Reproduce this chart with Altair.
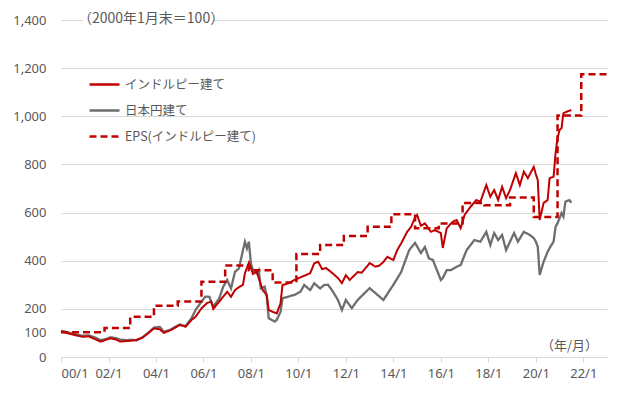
import altair as alt
import pandas as pd

# ---- data (2000/1 = 100) ----
inr_dates = ["2000-01","2000-04","2000-08","2000-12","2001-03","2001-06","2001-09","2001-12",
             "2002-02","2002-05","2002-07","2002-10","2003-01","2003-03","2003-06","2003-09","2003-12",
             "2004-03","2004-05","2004-08","2004-10","2005-01","2005-04","2005-07","2005-09","2005-12",
             "2006-03","2006-05","2006-06","2006-09","2006-11","2007-01","2007-03","2007-05","2007-07",
             "2007-09","2007-10","2007-12","2008-01","2008-02","2008-04","2008-05","2008-07","2008-09",
             "2008-10","2008-12","2009-02","2009-04","2009-05","2009-08","2009-11","2010-03","2010-07",
             "2010-09","2010-11","2011-01","2011-03","2011-06","2011-09","2011-11","2012-01","2012-03",
             "2012-07","2012-09","2013-01","2013-04","2013-06","2013-08","2013-10","2014-01","2014-03",
             "2014-05","2014-08","2014-10","2014-12","2015-01","2015-03","2015-05","2015-08","2015-10",
             "2016-01","2016-02","2016-04","2016-07","2016-09","2016-11","2017-01","2017-04","2017-07",
             "2017-09","2017-12","2018-02","2018-04","2018-06","2018-08","2018-10","2018-12","2019-03",
             "2019-05","2019-07","2019-09","2019-12","2020-01","2020-02","2020-03","2020-05","2020-07",
             "2020-08","2020-10","2020-11","2020-12","2021-01","2021-02","2021-03","2021-05","2021-07"]
inr_values = [105,100,91,84,86,75,64,72,
              78,72,64,66,68,71,80,98,119,
              115,100,110,119,133,126,154,167,202,
              225,230,200,230,251,271,250,278,290,
              300,348,392,370,345,354,327,278,258,
              195,188,181,223,299,306,320,334,348,
              389,396,365,370,350,328,307,340,320,
              353,350,390,375,380,395,416,403,444,
              472,520,541,580,590,545,555,520,527,
              515,453,535,562,569,535,590,624,652,
              645,714,666,694,652,707,660,694,764,
              714,770,743,790,760,735,569,640,652,
              743,749,847,910,943,951,1013,1020,1026]

jpy_dates = ["2000-01","2000-04","2000-08","2000-12","2001-03","2001-06","2001-09","2001-12",
             "2002-02","2002-05","2002-07","2002-10","2003-01","2003-03","2003-06","2003-09","2003-12",
             "2004-03","2004-05","2004-08","2004-10","2005-01","2005-04","2005-07","2005-09","2005-12",
             "2006-02","2006-04","2006-06","2006-09","2006-11","2007-01","2007-03","2007-05","2007-07",
             "2007-09","2007-10","2007-11","2007-12","2008-01","2008-02","2008-04","2008-05","2008-06",
             "2008-08","2008-09","2008-10","2009-01","2009-02","2009-04","2009-05","2009-08","2009-11",
             "2010-02","2010-04","2010-07","2010-09","2010-12","2011-02","2011-04","2011-06","2011-09",
             "2011-11","2012-01","2012-04","2012-07","2013-01","2013-04","2013-08","2014-01","2014-05",
             "2014-09","2014-12","2015-03","2015-05","2015-07","2015-09","2016-01","2016-02","2016-04",
             "2016-06","2016-09","2016-11","2017-02","2017-06","2017-09","2017-12","2018-02","2018-04",
             "2018-06","2018-08","2018-10","2019-02","2019-04","2019-07","2019-10","2019-12","2020-01",
             "2020-02","2020-03","2020-05","2020-07","2020-08","2020-10","2020-11","2020-12","2021-02",
             "2021-03","2021-04","2021-06","2021-07"]
jpy_values = [110,103,95,88,90,82,70,75,
              82,78,72,70,72,68,80,100,122,
              125,105,112,122,135,128,161,195,230,
              251,250,209,244,292,320,285,354,368,
              444,479,451,479,389,361,348,361,285,
              292,251,161,147,154,188,244,251,258,
              271,299,278,306,285,299,300,278,237,
              195,237,203,237,286,265,237,300,353,
              444,474,432,457,410,403,320,328,361,
              361,375,382,444,486,479,520,465,515,
              486,507,444,515,479,520,507,494,480,
              458,341,396,437,453,479,541,556,598,
              583,645,652,641]

eps_dates = ["2000-01","2001-11","2002-12","2003-12","2004-12","2005-12","2006-12","2007-12",
             "2008-12","2009-12","2010-12","2011-12","2012-12","2013-12","2014-12","2015-12",
             "2016-12","2017-11","2018-12","2019-12","2020-12","2021-12","2023-01"]
eps_values = [103,120,167,213,231,313,380,360,
              310,428,465,503,541,593,535,555,
              640,630,663,582,1003,1175,1175]

series_names = ["インドルピー建て", "日本円建て", "EPS(インドルピー建て)"]
series_colors = ["#C00000", "#6E6E6E", "#C00000"]
series_dashes = [[1, 0], [1, 0], [7, 4]]
y_ticks = [0, 100, 200, 400, 600, 800, 1000, 1200, 1400]
x_tick_years = [2000, 2002, 2004, 2006, 2008, 2010, 2012, 2014, 2016, 2018, 2020, 2022]

def frame(dates, values, name):
    return pd.DataFrame({"date": [d + "-01" for d in dates], "value": values, "series": name})

df_inr = frame(inr_dates, inr_values, series_names[0])
df_jpy = frame(jpy_dates, jpy_values, series_names[1])
df_eps = frame(eps_dates, eps_values, series_names[2])

FONT = "Noto Sans CJK JP"
NUMFONT = "Noto Sans"
TXT = "#595959"

x_enc = alt.X(
    "date:T",
    scale=alt.Scale(type="utc", domain=[alt.DateTime(year=2000, month=1, date=1, utc=True),
                                        alt.DateTime(year=2023, month=1, date=1, utc=True)]),
    axis=alt.Axis(
        title=None,
        values=[alt.DateTime(year=y, month=1, date=1, utc=True) for y in x_tick_years],
        labelExpr="utcFormat(datum.value, '%y') + '/1'",
        grid=False, domainColor="#D9D9D9", tickColor="#D9D9D9", tickSize=5,
        labelPadding=5, labelFontSize=13, labelColor=TXT, labelFont=NUMFONT,
    ),
)
y_enc = alt.Y(
    "value:Q",
    scale=alt.Scale(domain=[0, 1400], nice=False),
    axis=alt.Axis(
        title=None, values=y_ticks, format=",d", domain=False, ticks=False,
        labelPadding=15, labelFontSize=13, labelColor=TXT, labelFont=NUMFONT,
        gridColor="#D9D9D9",
        gridOpacity={"condition": {"test": "datum.value === 100", "value": 0}, "value": 1},
    ),
)
legend_cfg = dict(title=None, orient="none", legendX=27, legendY=48,
                  symbolType="stroke", symbolSize=900, symbolStrokeWidth=2.5,
                  labelFontSize=12.5, labelColor=TXT, labelFont=FONT,
                  rowPadding=3, padding=0, labelOffset=4)
color_enc = alt.Color(
    "series:N",
    scale=alt.Scale(domain=series_names, range=series_colors),
    legend=alt.Legend(**legend_cfg),
)
dash_enc = alt.StrokeDash(
    "series:N",
    scale=alt.Scale(domain=series_names, range=series_dashes),
    legend=alt.Legend(**legend_cfg),
)

gray_line = alt.Chart(df_jpy).mark_line(strokeWidth=2.3).encode(x=x_enc, y=y_enc, color=color_enc, strokeDash=dash_enc)
red_line = alt.Chart(df_inr).mark_line(strokeWidth=2).encode(x=x_enc, y=y_enc, color=color_enc, strokeDash=dash_enc)
eps_line = alt.Chart(df_eps).mark_line(strokeWidth=2.5, interpolate="step-after").encode(
    x=x_enc, y=y_enc, color=color_enc, strokeDash=dash_enc)

# white backing behind the top note (it masks the 1,400 gridline, as in the original)
note_bg = alt.Chart(pd.DataFrame({"k": [0]})).mark_rect(color="white").encode(
    x=alt.value(22), x2=alt.value(153), y=alt.value(-9), y2=alt.value(8))
note_top = alt.Chart(pd.DataFrame({"t": ["（2000年1月末＝100）"]})).mark_text(
    font=FONT, fontSize=14, color=TXT, align="left", baseline="middle"
).encode(x=alt.value(17), y=alt.value(-1), text="t:N")
note_unit = alt.Chart(pd.DataFrame({"t": ["（年/月）"]})).mark_text(
    font=FONT, fontSize=13, color=TXT, align="left", baseline="middle"
).encode(x=alt.value(480), y=alt.value(326), text="t:N")

chart = alt.layer(gray_line, red_line, eps_line, note_bg, note_top, note_unit).properties(
    width=546, height=337,
    autosize=alt.AutoSizeParams(type="none"),
    padding={"left": 53, "top": 12, "right": 5, "bottom": 30},
).configure_view(stroke=None).resolve_scale(color="shared", strokeDash="shared")

chart.save("out.html", embed_options={"renderer": "svg", "actions": False})
